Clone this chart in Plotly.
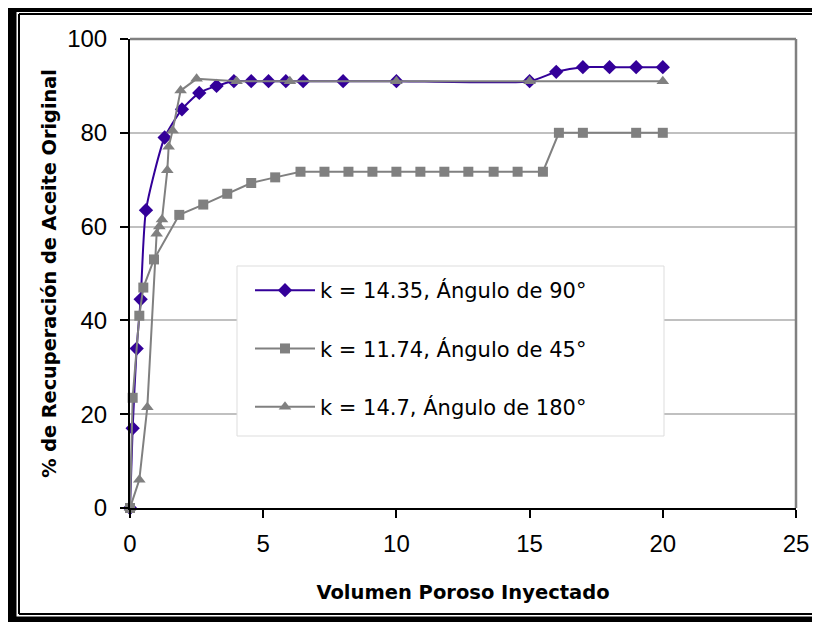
import plotly.graph_objects as go

# Data
x_90 = [0, 0.1, 0.25, 0.4, 0.6, 1.3, 1.95, 2.6, 3.25, 3.9, 4.55, 5.2, 5.85, 6.5, 8, 10, 15, 16, 17, 18, 19, 20]
y_90 = [0, 17, 34, 44.5, 63.5, 79, 85, 88.5, 90, 91, 91, 91, 91, 91, 91, 91, 91, 93, 94, 94, 94, 94]

x_45 = [0, 0.1, 0.35, 0.5, 0.9, 1.85, 2.75, 3.65, 4.55, 5.45, 6.4, 7.3, 8.2, 9.1, 10,
        10.9, 11.8, 12.7, 13.65, 14.55, 15.5, 16.1, 17, 19, 20]
y_45 = [0, 23.5, 41, 47, 53, 62.5, 64.7, 67, 69.3, 70.5, 71.7, 71.7, 71.7, 71.7, 71.7,
        71.7, 71.7, 71.7, 71.7, 71.7, 71.7, 80, 80, 80, 80]

x_180 = [0, 0.35, 0.65, 1.0, 1.1, 1.2, 1.4, 1.45, 1.6, 1.9, 2.5, 4.0, 6.0, 10.0, 15.0, 20.0]
y_180 = [0, 6, 21.5, 58.5, 60, 61.5, 72, 77, 80.5, 89, 91.5, 91, 91, 91, 91, 91]

names = ["k = 14.35, Ángulo de 90°", "k = 11.74, Ángulo de 45°", "k = 14.7, Ángulo de 180°"]

# page offset of the figure (default body margin of the html page)
OFF = 8
W, H = 820, 622
ML, MR, MT, MB = 122, 32, 31, 122
PW, PH = W - ML - MR, H - MT - MB


def px(x):
    # page pixel -> paper coordinate
    return (x - OFF - ML) / PW


def py(y):
    return (H - MB - (y - OFF)) / PH


BLUE = "#330099"
GRAY = "#808080"

fig = go.Figure()
fig.add_trace(go.Scatter(
    x=x_90, y=y_90, name=names[0], legendgroup="a", mode="lines+markers",
    line=dict(color=BLUE, width=2, shape="spline", smoothing=0.6),
    marker=dict(symbol="diamond", size=11, color=BLUE), cliponaxis=False,
))
fig.add_trace(go.Scatter(
    x=x_45, y=y_45, name=names[1], legendgroup="b", mode="lines+markers",
    line=dict(color=GRAY, width=2),
    marker=dict(symbol="square", size=10, color=GRAY), cliponaxis=False,
))
fig.add_trace(go.Scatter(
    x=x_180, y=y_180, name=names[2], legendgroup="c", mode="lines+markers",
    line=dict(color=GRAY, width=2),
    marker=dict(symbol="triangle-up", size=11, color=GRAY), cliponaxis=False,
))

# double black frame, gray plot-area border (top / right) and legend box
shapes = [
    dict(type="rect", x0=px(8), x1=px(16.5), y0=py(4), y1=py(640), fillcolor="black", line_width=0),
    dict(type="rect", x0=px(8), x1=px(840), y0=py(4), y1=py(12), fillcolor="black", line_width=0),
    dict(type="rect", x0=px(8), x1=px(840), y0=py(616.5), y1=py(640), fillcolor="black", line_width=0),
    dict(type="line", x0=px(19), x1=px(840), y0=py(14), y1=py(14), line=dict(color="black", width=2)),
    dict(type="line", x0=px(19), x1=px(19), y0=py(14), y1=py(614), line=dict(color="black", width=2)),
    dict(type="line", x0=px(19), x1=px(840), y0=py(614), y1=py(614), line=dict(color="black", width=2)),
    dict(type="line", x0=0, x1=1, y0=1, y1=1, line=dict(color=GRAY, width=2.5)),
    dict(type="line", x0=1, x1=1, y0=0, y1=1, line=dict(color=GRAY, width=2.5)),
    dict(type="rect", x0=px(237), x1=px(664), y0=py(266), y1=py(436),
         fillcolor="white", line=dict(color="#DDDDDD", width=1)),
]
for s in shapes:
    s.update(xref="paper", yref="paper", layer="above")
    fig.add_shape(**s)

fig.update_layout(
    width=W, height=H,
    margin=dict(l=ML, r=MR, t=MT, b=MB),
    paper_bgcolor="white", plot_bgcolor="white",
    font=dict(family="Liberation Sans, Arial", color="black"),
    legend=dict(
        x=px(250), y=py(270), xanchor="left", yanchor="top",
        bgcolor="rgba(0,0,0,0)", borderwidth=0,
        font=dict(family="DejaVu Sans", size=21, color="black"),
        traceorder="grouped", tracegroupgap=28, itemwidth=60,
    ),
    showlegend=True,
)
fig.update_xaxes(
    range=[0, 25], dtick=5, showgrid=False, zeroline=False,
    showline=True, linecolor="black", linewidth=2,
    ticks="outside", ticklen=8, tickwidth=2, tickcolor="black",
    tickfont=dict(size=24), ticklabelstandoff=5,
    title=dict(text="<b>Volumen Poroso Inyectado</b>",
               font=dict(family="DejaVu Sans", size=19.5), standoff=30),
)
fig.update_yaxes(
    range=[0, 100], dtick=20, showgrid=True, gridcolor="#C0C0C0", gridwidth=1.5,
    zeroline=False, showline=True, linecolor="black", linewidth=2,
    ticks="outside", ticklen=8, tickwidth=2, tickcolor="black",
    tickfont=dict(size=24), ticklabelstandoff=8,
    title=dict(text="<b>% de Recuperación de Aceite Original</b>",
               font=dict(family="DejaVu Sans", size=19.3), standoff=5),
)

fig.write_html("out.html")
